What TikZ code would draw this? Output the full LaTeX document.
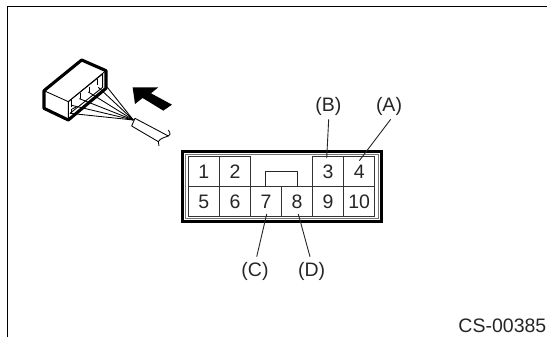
\documentclass[tikz,border=0pt]{standalone}
\usepackage{fontspec}
\setmainfont{Liberation Sans}
\tikzset{
  cell/.style={draw=black!80,line width=.8pt,minimum width=31.2pt,minimum height=30pt,inner sep=0pt,outer sep=0pt,font=\fontsize{19.5}{19.5}\selectfont,text=black!85},
  lbl/.style={inner sep=1pt,font=\fontsize{19.5}{19.5}\selectfont,text=black!85},
  leader/.style={draw=black!85,line width=.9pt},
  thin/.style={line width=.85pt,line join=round},
  thick/.style={line width=3.1pt,line join=round},
}
\begin{document}
\begin{tikzpicture}[x=1pt,y=-1pt]
\useasboundingbox (0,0) rectangle (547,337);
\fill[white] (0,0) rectangle (547,337);
% frame
\draw[line width=1.9pt] (7.5,337) -- (7.5,6.5) -- (547,6.5);
% connector body
\draw[line width=3.1pt] (182.3,151.5) rectangle (381.5,221.7);
\draw[draw=black!55,line width=.7pt] (185.3,154.3) rectangle (378,218.3);
\node[cell] (c1) at (203.9,171.5) {1};
\node[cell] (c2) at (235.1,171.5) {2};
\node[cell] (c3) at (328.0,171.5) {3};
\node[cell] (c4) at (359.2,171.5) {4};
\node[cell] (c5) at (203.9,201.5) {5};
\node[cell] (c6) at (235.1,201.5) {6};
\node[cell] (c7) at (266.0,201.5) {7};
\node[cell] (c8) at (297.0,201.5) {8};
\node[cell] (c9) at (328.0,201.5) {9};
\node[cell] (c10) at (359.2,201.5) {10};
\draw[thin,draw=black!85,line width=1pt] (265.8,186.5) -- (265.8,171) -- (297.3,171) -- (297.3,186.5);
% labels and leaders
\node[lbl] (lA) at (389,106.5) {(A)};
\node[lbl] (lB) at (328.3,106.5) {(B)};
\node[lbl] (lC) at (255,271) {(C)};
\node[lbl] (lD) at (311.7,271) {(D)};
\node[lbl,anchor=south east,inner sep=0pt] (code) at (546.5,333) {CS-00385};
\coordinate (pA) at (359.3,160.7);
\coordinate (pB) at (326.7,158);
\coordinate (pC) at (266.7,214);
\coordinate (pD) at (298.3,214);
\draw[leader] (390.7,119.3) -- (pA);
\draw[leader] (328.7,119.3) -- (pB);
\draw[leader] (256.7,256.7) -- (pC);
\draw[leader] (310,256.7) -- (pD);
% plug sketch
\begin{scope}[shift={(20,50)},x=.3333pt,y=-.3333pt]
  \fill (338,112) -- (415,112) -- (393,130) -- (456,164) -- (430,182) -- (368,144) -- (345,162) -- cycle;
  \draw[thin] (340,210) -- (262,112);
  \draw[thin] (340,210) -- (235,112);
  \draw[thin] (340,210) -- (205,126);
  \draw[thin] (340,210) -- (178,146);
  \draw[thin] (340,210) -- (155,166);
  \draw[thin] (340,210) -- (150,190);
  \draw[thin] (145,155) -- (248,72) -- (248,112) -- (150,190);
  \draw[thin] (72,122) -- (145,155) -- (145,210);
  \draw[thin] (145,155) -- (258,62);
  \draw[thin] (233,88) -- (233,104);
  \draw[thin] (207,110) -- (207,126);
  \draw[thin] (181,130) -- (181,146);
  \draw[thin] (155,150) -- (155,172);
  \draw[thin] (155,178) -- (170,170);
  \draw[thin] (155,178) -- (155,190);
  \draw[thick] (72,122) -- (185,30) -- (258,62) -- (258,115) -- (145,210) -- (72,175) -- cycle;
  \draw[thin] (345,205) -- (335,228) -- (415,275);
  \draw[thin] (345,205) -- (445,258);
  \draw[thin] (445,240) .. controls (453,250) and (450,258) .. (445,258) .. controls (435,262) and (420,265) .. (415,275) .. controls (414,280) and (416,284) .. (417,288);
\end{scope}
\end{tikzpicture}
\end{document}
